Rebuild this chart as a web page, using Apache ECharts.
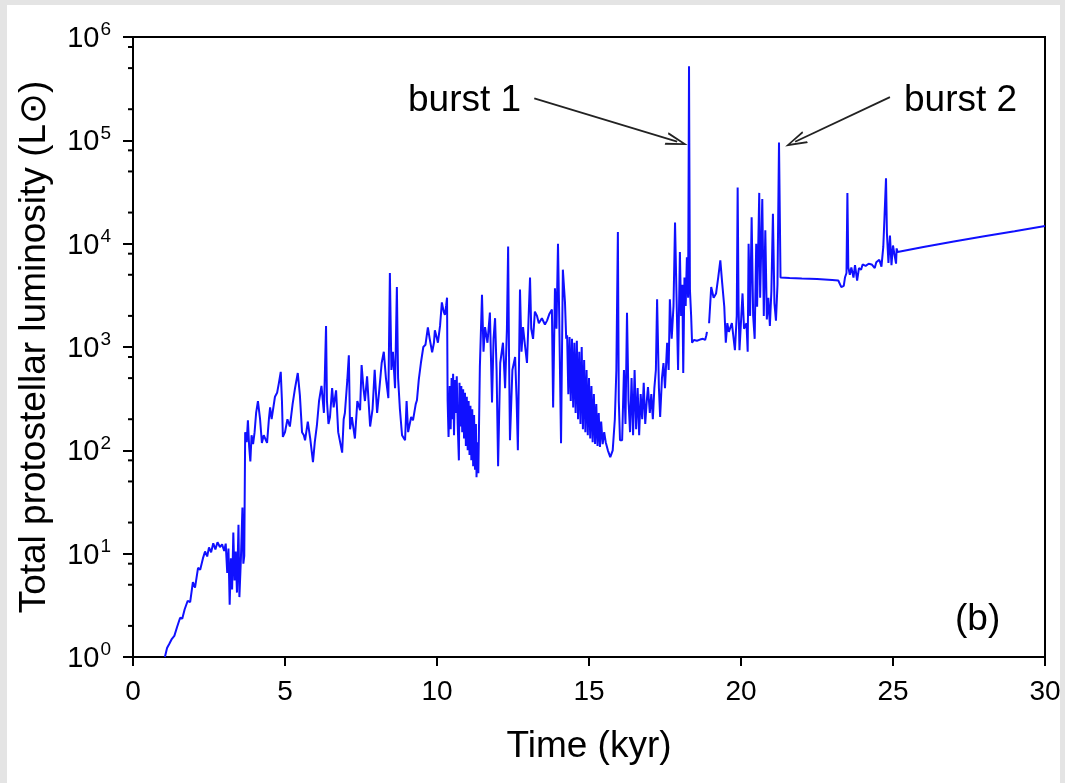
<!DOCTYPE html>
<html>
<head>
<meta charset="utf-8">
<script src="https://cdn.jsdelivr.net/npm/echarts@6/dist/echarts.min.js"></script>
<style>
  html, body { margin:0; padding:0; background:#e4e4e4; }
  #paper { position:absolute; left:7px; top:5px; width:1053px; height:778px; background:#fff; }
  #chart { position:absolute; left:0; top:0; width:1065px; height:783px; }
</style>
</head>
<body>
<div id="paper"></div>
<div id="chart"></div>
<script>
// ---- data (time in kyr, luminosity in L_sun) ----
var xTicks = [0, 5, 10, 15, 20, 25, 30];
var yDecades = [1, 10, 100, 1000, 10000, 100000, 1000000];
var minorMultipliers = [2, 5, 8];

var segRise = [
  [1.05,1.0],[1.12,1.22],[1.2,1.35],[1.28,1.5],[1.36,1.6],[1.45,1.95],[1.55,2.4],[1.62,2.35],
  [1.7,2.9],[1.8,3.5],[1.88,3.4],[1.97,5.3],[2.04,4.7],[2.14,7.3],[2.21,7.0],[2.3,9.0],
  [2.37,10.5],[2.44,9.4],[2.5,11.5],[2.57,10.3],[2.64,12.6],[2.71,11.0],[2.78,12.9],[2.86,11.6],
  [2.93,12.3],[3.0,10.6],[3.05,12.5],[3.1,6.5],[3.14,11.2],[3.18,3.2],[3.22,9.0],[3.26,4.5],
  [3.3,16.0],[3.34,5.5],[3.38,10.5],[3.42,4.2],[3.47,19.0],[3.5,3.8],[3.55,9.0],[3.6,28.0],
  [3.63,8.0],[3.66,9.5],[3.69,150]
];
var segPlateau = [
  [3.74,120],[3.78,195],[3.82,110],[3.86,78],[3.9,140],[3.95,115],[4.0,150],[4.05,230],
  [4.11,300],[4.18,200],[4.24,118],[4.3,140],[4.41,118],[4.47,200],[4.51,260],[4.56,200],
  [4.61,195],[4.67,330],[4.74,360],[4.8,450],[4.86,575],[4.9,300],[4.93,135],[5.0,150],
  [5.08,200],[5.16,170],[5.25,280],[5.33,400],[5.42,560],[5.49,340],[5.56,150],[5.62,140],
  [5.66,125],[5.75,190],[5.83,130],[5.92,77],[5.98,120],[6.05,175],[6.12,300],[6.2,420],
  [6.28,230],[6.35,1600],[6.38,300],[6.43,180],[6.48,210],[6.55,400],[6.6,260],[6.68,380],
  [6.75,150],[6.88,95],[6.93,200],[6.97,230],[7.05,480],[7.1,830],[7.14,160],[7.2,210],
  [7.3,130],[7.38,300],[7.47,245],[7.52,670],[7.58,400],[7.63,300],[7.7,520],[7.8,170],
  [7.88,250],[7.95,600],[8.03,230],[8.1,380],[8.18,700],[8.25,900],[8.32,500],[8.4,320],
  [8.45,5200],[8.5,600],[8.55,900],[8.62,400],[8.68,3800],[8.72,500],[8.78,250],[8.85,140],
  [8.95,125],[9.0,300],[9.05,150],[9.15,210],[9.21,195],[9.3,280],[9.34,305],[9.4,480],
  [9.47,700],[9.55,1000],[9.62,1050],[9.7,1550],[9.76,1200],[9.84,890],[9.9,1100],[9.93,1450],
  [10.0,1200],[10.03,1100],[10.1,1600],[10.16,2700],[10.22,2200],[10.26,2050],[10.3,2500],[10.33,3000]
];
var segDip1 = [
  [10.35,300],[10.38,135],[10.42,420],[10.45,160],[10.48,500],[10.5,200],[10.53,550],[10.56,140],
  [10.59,480],[10.62,230],[10.65,520],[10.68,180],[10.72,80],[10.74,450],[10.77,170],[10.8,420],
  [10.83,150],[10.86,390],[10.89,130],[10.92,360],[10.95,110],[10.98,330],[11.01,100],[11.04,300],
  [11.07,90],[11.1,270],[11.13,80],[11.16,250],[11.19,70],[11.22,220],[11.25,65],[11.28,180],
  [11.3,55],[11.33,120],[11.36,60]
];
var segMiddle = [
  [11.41,640],[11.48,3200],[11.53,900],[11.58,1560],[11.66,1100],[11.74,2150],[11.81,290],[11.86,1200],
  [11.91,1900],[11.96,600],[12.01,70],[12.08,700],[12.17,1100],[12.24,400],[12.3,1500],[12.34,9400],
  [12.37,800],[12.4,125],[12.48,600],[12.57,800],[12.62,300],[12.66,100],[12.73,3600],[12.78,900],
  [12.83,1560],[12.9,1000],[12.96,700],[13.01,1800],[13.06,4700],[13.1,1500],[13.16,1200],[13.22,2200],
  [13.29,2000],[13.35,1700],[13.45,1900],[13.55,1650],[13.62,1800],[13.7,2100],[13.78,2300],[13.82,260],
  [13.88,3700],[13.93,1500],[13.98,10000],[14.02,2000],[14.08,117],[14.14,5600],[14.21,2700],[14.25,1200]
];
var segDip2 = [
  [14.28,1300],[14.32,350],[14.36,1250],[14.4,300],[14.44,1200],[14.48,260],[14.52,1100],[14.56,230],
  [14.6,1150],[14.64,200],[14.68,900],[14.72,180],[14.76,1000],[14.8,160],[14.84,750],[14.88,150],
  [14.92,600],[14.96,140],[15.0,500],[15.04,130],[15.08,420],[15.12,120],[15.16,350],[15.2,115],
  [15.24,280],[15.28,110],[15.32,230],[15.36,108],[15.4,190],[15.45,115],[15.5,150],[15.55,120],
  [15.62,100],[15.7,86],[15.78,100],[15.85,200],[15.9,600],[15.95,13000],[15.98,300],[16.02,125]
];
var segBurst1 = [
  [16.09,125],[16.15,600],[16.2,180],[16.25,2150],[16.3,300],[16.35,150],[16.4,500],[16.45,140],
  [16.5,600],[16.55,160],[16.6,400],[16.65,140],[16.7,350],[16.75,200],[16.8,450],[16.85,180],
  [16.9,300],[16.94,410],[17.0,230],[17.05,350],[17.1,200],[17.15,400],[17.2,600],[17.24,2900],
  [17.3,400],[17.34,210],[17.4,500],[17.45,700],[17.5,400],[17.57,1100],[17.62,600],[17.66,2900],
  [17.72,1200],[17.78,2500],[17.83,16000],[17.88,3000],[17.93,600],[17.99,8300],[18.03,2000],[18.07,4000],
  [18.1,560],[18.14,4700],[18.18,2500],[18.22,7400],[18.26,3000],[18.28,85000],[18.29,520000],[18.3,85000],
  [18.32,3600],[18.36,2000],[18.39,1100],[18.45,1170],[18.55,1150],[18.65,1180],[18.75,1200],[18.82,1170],
  [18.86,1300],[18.88,1400]
];
var segBurst2 = [
  [18.95,1700],[19.02,3800],[19.1,3000],[19.18,3300],[19.25,4700],[19.32,6900],[19.38,4200],[19.45,2450],
  [19.5,1100],[19.55,1700],[19.6,1400],[19.7,1700],[19.8,930],[19.86,2000],[19.89,35000],[19.92,2500],
  [19.95,930],[20.05,3300],[20.1,1500],[20.18,1700],[20.22,900],[20.25,10000],[20.3,2000],[20.35,18000],
  [20.4,2000],[20.45,1200],[20.5,10000],[20.53,2450],[20.6,31000],[20.63,3000],[20.7,27000],[20.75,2000],
  [20.8,13500],[20.85,1850],[20.9,3000],[20.95,1600],[21.0,3500],[21.05,19500],[21.1,2650],[21.15,1800],
  [21.2,4000],[21.25,95000],[21.3,4700]
];
var segLate = [
  [21.35,4750],[21.6,4650],[22.0,4600],[22.5,4550],[23.0,4450],[23.2,4400],[23.3,3800],[23.38,3900],
  [23.42,4700],[23.47,5200],[23.5,31000],[23.53,5900],[23.58,5000],[23.63,5900],[23.7,4700],[23.75,6200],
  [23.82,4400],[23.88,5800],[23.95,5600],[24.0,6300],[24.1,6100],[24.2,6400],[24.3,6300],[24.4,5800],
  [24.45,6600],[24.55,7000],[24.62,6000],[24.68,9300],[24.72,18000],[24.77,43000],[24.8,12600],[24.85,6500],
  [24.9,12000],[24.95,6200],[25.0,9600],[25.05,7800],[25.1,6400],[25.12,9000],[25.15,8300],[26.0,9300],
  [27.0,10500],[28.0,11800],[29.0,13200],[30.0,14800]
];
var gapPoint = [18.92, '-'];

var annotations = [
  { text: 'burst 1', from: [13.2, 255000], to: [17.9, 97000] },
  { text: 'burst 2', from: [24.9, 262000], to: [21.78, 97000] }
];

// ---- build ----
var seriesData = [].concat(segRise, segPlateau, segDip1, segMiddle, segDip2, segBurst1, [gapPoint], segBurst2, segLate);
var minorTicks = [];
yDecades.slice(0, -1).forEach(function (d) {
  minorMultipliers.forEach(function (m) { minorTicks.push([0, d * m]); });
});

var FONT = '"Liberation Sans", Arial, Helvetica, "DejaVu Sans", sans-serif';
var chart = echarts.init(document.getElementById('chart'), null, { renderer: 'canvas' });
var openArrow = 'path://M0,22 L6,0 L12,22 L10.2,22 L6,6 L1.8,22 Z';

chart.setOption({
  animation: false,
  backgroundColor: 'transparent',
  grid: { left: 133, right: 20, top: 37, bottom: 126, show: true, borderColor: '#000', borderWidth: 2, backgroundColor: 'transparent' },
  xAxis: {
    type: 'value', min: 0, max: 30, interval: 5,
    name: 'Time (kyr)', nameLocation: 'middle', nameGap: 71,
    nameTextStyle: { fontFamily: FONT, fontSize: 37, color: '#000' },
    axisLine: { show: true, lineStyle: { color: '#000', width: 2 } },
    axisTick: { show: true, inside: false, length: 9, lineStyle: { color: '#000', width: 2 } },
    axisLabel: { fontFamily: FONT, fontSize: 28, color: '#000', margin: 21 },
    splitLine: { show: false }
  },
  yAxis: {
    type: 'log', logBase: 10, min: 1, max: 1000000,
    name: 'Total protostellar luminosity (L\u2299)', nameLocation: 'middle', nameGap: 80,
    nameTextStyle: { fontFamily: FONT, fontSize: 37, color: '#000' },
    axisLine: { show: true, lineStyle: { color: '#000', width: 2 } },
    axisTick: { show: true, inside: false, length: 10, lineStyle: { color: '#000', width: 2 } },
    axisLabel: {
      margin: 22, color: '#000',
      formatter: function (v) {
        var e = Math.round(Math.log(v) / Math.LN10);
        return '{b|10}{s|' + e + '}';
      },
      rich: {
        b: { fontFamily: FONT, fontSize: 29, color: '#000', lineHeight: 33, verticalAlign: 'bottom' },
        s: { fontFamily: FONT, fontSize: 19, color: '#000', lineHeight: 19, verticalAlign: 'top', padding: [0, 0, 0, 1] }
      }
    },
    splitLine: { show: false }
  },
  graphic: [
    { type: 'text', left: 408, top: 82, style: { text: annotations[0].text, font: '37px ' + FONT, fill: '#000' } },
    { type: 'text', left: 904, top: 82, style: { text: annotations[1].text, font: '37px ' + FONT, fill: '#000' } },
    { type: 'text', left: 955, top: 601, style: { text: '(b)', font: '37px ' + FONT, fill: '#000' } }
  ],
  series: [
    {
      type: 'line', data: seriesData, showSymbol: false, symbol: 'none', connectNulls: false,
      sampling: null, clip: true,
      lineStyle: { color: '#1010ff', width: 2 },
      markLine: {
        silent: true, animation: false,
        symbol: ['none', openArrow], symbolSize: [13, 22],
        label: { show: false },
        lineStyle: { color: '#222', width: 1.8, type: 'solid' },
        emphasis: { disabled: true },
        data: annotations.map(function (a) { return [{ coord: a.from }, { coord: a.to }]; })
      }
    },
    {
      type: 'custom', data: minorTicks, silent: true, clip: false,
      renderItem: function (params, api) {
        var p = api.coord([0, api.value(1)]);
        return { type: 'line', shape: { x1: p[0] - 5, y1: p[1], x2: p[0], y2: p[1] }, style: { stroke: '#000', lineWidth: 2 } };
      }
    }
  ]
});
</script>
</body>
</html>
